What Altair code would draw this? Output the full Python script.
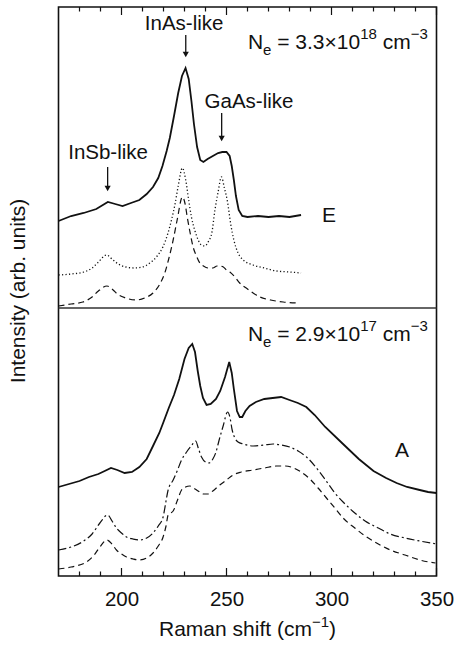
import altair as alt
import pandas as pd

# ---------------- data (x: Raman shift in cm^-1, y: intensity, arbitrary units) -------------
# Sample E (top panel): experiment (solid), calculated (dotted, dashed)
e_exp_x = [170, 176, 182, 188, 193.5, 197, 200.5, 204.5, 208.5, 212, 215, 217.5, 219.5, 221.5, 223, 225, 227,
           228.8, 230.5, 232, 233.3, 234.5, 236, 237.5, 239, 241, 243.5, 246, 248, 250, 251.5, 252.5, 253.5,
           254.5, 255.8, 257.5, 260, 265, 270, 275, 280, 285.5]
e_exp_y = [355, 360, 363, 367, 374, 372, 370, 373, 376, 382, 389, 398, 410, 425, 438, 460, 483,
           500, 508, 497, 475, 452, 429, 416, 414, 417, 420, 423, 424, 424, 420, 410, 396,
           380, 366, 360, 359, 360, 359, 360, 359, 361]

e_dot_x = [170, 176, 182, 186, 189, 192.8, 196, 198.5, 202, 206, 210, 213.5, 217, 219.7, 222, 223.8, 225.5,
           227, 229, 230.5, 232, 233.3, 235, 236.5, 238, 239.7, 241.5, 243, 244.5, 246, 247.6, 249, 250.5,
           252, 253.5, 255.5, 258, 262.7, 268, 273.8, 280, 285.5]
e_dot_y = [301, 302, 304, 308, 314, 321, 316, 312, 309, 308, 309, 313, 320, 329, 342, 356, 372,
           390, 408, 397, 376, 359, 345, 336, 331, 330, 335, 343, 366, 384, 399, 388, 374,
           352, 336, 323, 316, 311, 308, 305, 304, 303]

e_dash_x = [170, 176, 181.6, 186, 189, 193.1, 196, 198, 202, 207, 211, 215, 218, 220.6, 222.6, 224.6, 226.5,
            229, 230.3, 231.3, 232.7, 234.1, 235.7, 237.3, 239, 241.2, 243.5, 245.5, 246.8, 248.5, 250,
            251.6, 254, 256.3, 260, 265.9, 271, 277, 283.7]
e_dash_y = [270, 272, 274, 279, 285, 290, 286, 282, 278, 276, 278, 283, 291, 303, 318, 336, 356,
            379, 372, 359, 343, 329, 320, 313, 310, 308, 308, 310, 310, 309, 306,
            304, 299, 293, 287, 279, 276, 274, 273]

# Sample A (bottom panel): experiment (solid), calculated (dash-dot, dashed)
a_exp_x = [170, 175, 180, 184.5, 189, 192, 195, 198, 201.5, 205, 208.5, 212, 215, 218, 220, 222.5, 225,
           227.5, 230, 232, 233.7, 235, 236.3, 237.5, 238.8, 240.5, 242.5, 245, 247, 249.3, 251.3, 252.5,
           253.5, 255, 256.3, 257.5, 259, 261, 264, 268, 272, 276, 280, 284, 288, 292, 297, 305, 313,
           320, 326, 331, 336, 342, 346, 350]
a_exp_y = [89, 92, 95, 99, 102, 105, 108, 106, 103, 104, 109, 117, 130, 143, 154, 168, 181,
           197, 217, 228, 232, 224, 205, 190, 178, 171, 172, 177, 185, 199, 214, 203,
           187, 165, 159, 159, 165, 170, 174, 177, 178, 179, 176, 173, 169, 161, 149, 133, 117,
           105, 98, 93, 89, 86, 84, 83]

a_dd_x = [170, 176, 182, 186, 189.7, 193.4, 195.5, 197.6, 200, 202.4, 205.5, 208.5, 212, 215, 217.5, 219.8,
          221.2, 222.2, 224.6, 226.5, 228.6, 231, 233.2, 235.3, 236.7, 238.1, 240, 241.7, 243.5, 245, 246.5,
          248.4, 250.5, 251.6, 252.7, 254, 255.5, 258, 262.7, 268, 272.2, 276, 280.1, 284.1, 288.1, 293.6,
          297.5, 301.6, 306, 311.1, 316, 322.3, 328, 335, 342, 350]
a_dd_y = [26, 29, 35, 42, 53, 61, 55, 48, 43, 39, 37, 36, 38, 43, 50, 59,
          75, 86, 96, 105, 116, 124, 130, 135, 127, 119, 114, 113, 117, 124, 136,
          150, 164, 159, 146, 138, 134, 132, 130, 131, 132, 131, 129, 125, 119, 106,
          95, 83, 73, 63, 55, 48, 42, 38, 35, 32]

a_dash_x = [170, 176, 183.3, 187, 189.7, 193.1, 195.5, 197.6, 200, 202.4, 205.5, 208.4, 212, 215, 217.5,
            219.8, 221.2, 222.2, 223.5, 224.6, 226.5, 228.6, 230.5, 232.5, 235, 237.3, 239, 241.2, 243.5,
            246.8, 250, 253.1, 257, 262.7, 268, 273.8, 278, 282, 285.5, 289.7, 293.6, 297.6, 301.6, 306,
            311.1, 316, 322.3, 328, 335, 342, 349.5]
a_dash_y = [7, 9, 14, 21, 29, 36, 32, 26, 22, 19, 17, 16, 18, 23, 30,
            39, 50, 61, 63, 65, 75, 86, 89, 90, 87, 84, 82, 82, 85,
            91, 96, 101, 104, 106, 108, 110, 110, 108, 104, 97, 88, 78, 68, 57,
            48, 40, 32, 26, 21, 16, 13]

x_major_ticks = [200, 250, 300, 350]
x_minor_ticks = [180, 190, 210, 220, 230, 240, 260, 270, 280, 290, 310, 320, 330, 340]

# ---------------- layout ----------------
W, H = 378, 569
X_DOMAIN = [170, 350]
Y_DOMAIN = [0, 569]
PANEL_SPLIT = 268
FONT = "Liberation Sans"
MAJOR_LEN, MINOR_LEN = 8, 4.5   # tick lengths (y units == px here)

xs = alt.Scale(domain=X_DOMAIN, nice=False, zero=False)
ys = alt.Scale(domain=Y_DOMAIN, nice=False, zero=False)

one = pd.DataFrame({"d": [0]})

X_AXIS = alt.Axis(values=x_major_ticks, ticks=False, tickSize=0, domain=False, grid=False,
                  labelFontSize=20.5, labelFont=FONT, labelColor="#111", labelPadding=13,
                  title=None, labelFlush=False)


def line(xv, yv, **style):
    df = pd.DataFrame({"x": xv, "y": yv})
    return alt.Chart(df).mark_line(color="#111", **style).encode(
        x=alt.X("x:Q", scale=xs, axis=X_AXIS),
        y=alt.Y("y:Q", scale=ys, axis=None),
    )


AW = {'N': 722, 'e': 556, ' ': 278, '=': 584, '3': 556, '.': 278, '×': 584, '1': 556, '0': 556,
      '8': 556, 'c': 500, 'm': 833, '−': 584, '2': 556, '9': 556, '7': 556, 'R': 722, 'a': 556,
      'n': 556, 's': 500, 'h': 556, 'i': 222, 'f': 278, 't': 278, '(': 333, ')': 333}


def adv(s, fs):
    return sum(AW.get(c, 556) for c in s) * fs / 1000.0


def rich(pieces, xenc, yenc, start=0.0):
    layers = []
    cur = start
    for txt, fs, rise in pieces:
        if txt.strip():
            layers.append(
                alt.Chart(one).mark_text(text=txt, fontSize=fs, font=FONT, dx=cur, dy=-rise,
                                         align="left", baseline="alphabetic", color="#111")
                .encode(x=xenc, y=yenc)
            )
        cur += adv(txt, fs)
    return layers, cur


def label(txt, x, y, align="center", fs=20.5):
    return alt.Chart(one).mark_text(text=txt, fontSize=fs, font=FONT, align=align,
                                    baseline="alphabetic", color="#111").encode(
        x=alt.datum(x, scale=xs), y=alt.datum(y, scale=ys))


def arrow(x, ytop, ytip):
    shaft = alt.Chart(one).mark_rule(color="#111", strokeWidth=1.3).encode(
        x=alt.datum(x, scale=xs), y=alt.datum(ytop, scale=ys), y2=alt.datum(ytip + 5))
    head = alt.Chart(one).mark_point(shape="triangle-down", filled=True, color="#111", size=38,
                                     opacity=1).encode(
        x=alt.datum(x, scale=xs), y=alt.datum(ytip + 3.5, scale=ys))
    return [shaft, head]


layers = []
# curves
layers.append(line(e_exp_x, e_exp_y, strokeWidth=1.8))
layers.append(line(e_dot_x, e_dot_y, strokeWidth=1.3, strokeDash=[1.2, 2.3], interpolate="monotone"))
layers.append(line(e_dash_x, e_dash_y, strokeWidth=1.2, strokeDash=[6, 4], interpolate="monotone"))
layers.append(line(a_exp_x, a_exp_y, strokeWidth=1.8))
layers.append(line(a_dd_x, a_dd_y, strokeWidth=1.2, strokeDash=[8, 3, 2, 3], interpolate="monotone"))
layers.append(line(a_dash_x, a_dash_y, strokeWidth=1.2, strokeDash=[6, 4], interpolate="monotone"))

# panel divider
layers.append(alt.Chart(one).mark_rule(color="#333", strokeWidth=1.3).encode(
    y=alt.datum(PANEL_SPLIT, scale=ys), x=alt.value(0), x2=alt.value(W)))

# inward ticks (top and bottom)
tmaj = pd.DataFrame({"t": x_major_ticks})
tmin = pd.DataFrame({"t": x_minor_ticks})
y_top, y_bot = Y_DOMAIN[1], Y_DOMAIN[0]
for df, ln in ((tmaj, MAJOR_LEN), (tmin, MINOR_LEN)):
    layers.append(alt.Chart(df).mark_rule(color="#111", strokeWidth=1.2).encode(
        x=alt.X("t:Q", scale=xs, axis=X_AXIS), y=alt.datum(y_top, scale=ys), y2=alt.datum(y_top - ln)))
    layers.append(alt.Chart(df).mark_rule(color="#111", strokeWidth=1.2).encode(
        x=alt.X("t:Q", scale=xs, axis=X_AXIS), y=alt.datum(y_bot, scale=ys), y2=alt.datum(y_bot + ln)))

# annotations
layers.append(label("InAs-like", 229.8, 546))
layers += arrow(230.6, 541, 518)
layers.append(label("GaAs-like", 260.7, 468))
layers += arrow(247.7, 463, 434)
layers.append(label("InSb-like", 193.6, 417))
layers += arrow(193.4, 409, 384)
layers.append(label("E", 295.5, 354, align="left", fs=21))
layers.append(label("A", 330.2, 119, align="left", fs=21))

ne_top = [("N", 21, 0), ("e", 15, -6), (" ", 21, 0), ("= 3.3×10", 21, 0), ("18", 15, 10),
          (" ", 21, 0), ("cm", 21, 0), ("−3", 15, 10)]
ne_bot = [("N", 21, 0), ("e", 15, -6), (" ", 21, 0), ("= 2.9×10", 21, 0), ("17", 15, 10),
          (" ", 21, 0), ("cm", 21, 0), ("−3", 15, 10)]
l1, _ = rich(ne_top, alt.datum(260.2, scale=xs), alt.datum(527, scale=ys))
l2, _ = rich(ne_bot, alt.datum(260.2, scale=xs), alt.datum(235, scale=ys))
layers += l1 + l2

# x-axis title with superscript
xt = [("Raman shift (cm", 21, 0), ("−1", 15, 9), (")", 21, 0)]
total = sum(adv(t, f) for t, f, _ in xt)
l3, _ = rich(xt, alt.value(W / 2 - total / 2), alt.value(629))
layers += l3

# y-axis title
layers.append(alt.Chart(one).mark_text(text="Intensity (arb. units)", fontSize=21, font=FONT, angle=270,
                                       align="center", baseline="middle", color="#111").encode(
    x=alt.value(-40), y=alt.value(284)))

chart = alt.layer(*layers).properties(
    width=W, height=H,
    autosize=alt.AutoSizeParams(type="none"),
    padding={"left": 58.5, "top": 7, "right": 19.5, "bottom": 69},
).configure(font=FONT, background="white").configure_view(stroke="#111", strokeWidth=1.6)

chart.save("out.html", embed_options={"renderer": "svg", "actions": False})
